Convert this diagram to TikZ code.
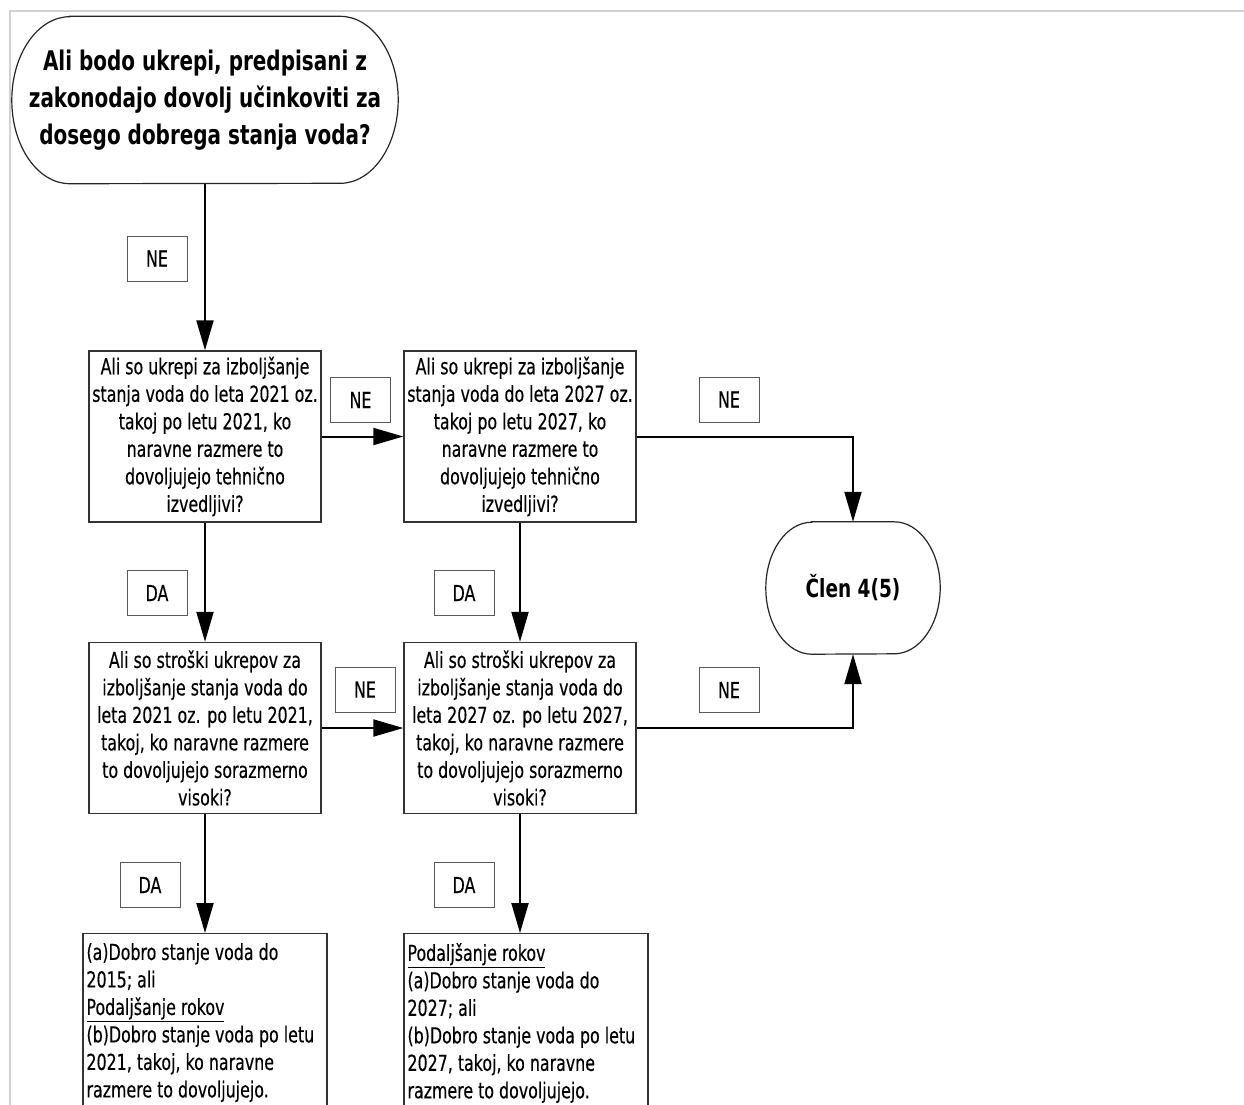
\documentclass[tikz,border=0pt]{standalone}
\usepackage{fontspec}
\setmainfont{DejaVu Sans}[FakeStretch=0.72, UprightFeatures={FakeBold=0.3}]
\newfontfamily\headf{DejaVu Sans}[FakeStretch=0.74]
\usetikzlibrary{arrows.meta,calc}
\begin{document}
\begin{tikzpicture}[x=1pt,y=-1pt,
  bodytxt/.style={font=\fontsize{22}{27.5}\selectfont},
  qbox/.style={draw=black!80, line width=1.4pt, minimum width=232pt, minimum height=171pt, align=center, inner sep=0pt, bodytxt},
  lbl/.style={draw=black!65, line width=1pt, minimum width=60pt, minimum height=45pt, inner sep=0pt, bodytxt},
  conn/.style={line width=2pt, -{Triangle[length=30pt,width=17pt]}},
  termline/.style={draw=black!85, line width=1.2pt},
  endframe/.style={draw=black!80, line width=1.4pt, minimum width=244pt, minimum height=200pt, anchor=north, inner sep=0pt},
  endtxt/.style={align=left, inner sep=0pt, bodytxt, anchor=north west},
  pageline/.style={draw=black!18, line width=1.3pt}
]
\useasboundingbox (0,0) rectangle (1244,1104);
\fill[white] (0,0) rectangle (1244,1104);
\draw[pageline] (10,1106) -- (10,11) -- (1246,11);

% start terminator
\node[minimum width=386pt, minimum height=167pt, inner sep=0pt, align=center,
  font=\headf\bfseries\fontsize{27}{37}\selectfont] (start) at (205,100)
  {Ali bodo ukrepi, predpisani z\\zakonodajo dovolj učinkoviti za\\dosego dobrega stanja voda?};
\draw[termline] ($(start.north west)+(58,0)$) -- ($(start.north east)+(-58,0)$)
  arc[start angle=90, end angle=-90, x radius=58pt, y radius=83.5pt]
  -- ($(start.south west)+(58,0)$)
  arc[start angle=270, end angle=90, x radius=58pt, y radius=83.5pt] -- cycle;

% end terminator
\node[minimum width=174pt, minimum height=132pt, inner sep=0pt,
  font=\headf\bfseries\fontsize{25}{30}\selectfont] (clen) at (853,588) {Člen 4(5)};
\draw[termline] ($(clen.north west)+(46,0)$) -- ($(clen.north east)+(-46,0)$)
  arc[start angle=90, end angle=-90, x radius=46pt, y radius=66pt]
  -- ($(clen.south west)+(46,0)$)
  arc[start angle=270, end angle=90, x radius=46pt, y radius=66pt] -- cycle;

% question boxes
\node[qbox] (q1) at (205,436.5) {Ali so ukrepi za izboljšanje\\stanja voda do leta 2021 oz.\\takoj po letu 2021, ko\\naravne razmere to\\dovoljujejo tehnično\\izvedljivi?};
\node[qbox] (q2) at (520,436.5) {Ali so ukrepi za izboljšanje\\stanja voda do leta 2027 oz.\\takoj po letu 2027, ko\\naravne razmere to\\dovoljujejo tehnično\\izvedljivi?};
\node[qbox] (q3) at (205,728) {Ali so stroški ukrepov za\\izboljšanje stanja voda do\\leta 2021 oz. po letu 2021,\\takoj, ko naravne razmere\\to dovoljujejo sorazmerno\\visoki?};
\node[qbox] (q4) at (520,728) {Ali so stroški ukrepov za\\izboljšanje stanja voda do\\leta 2027 oz. po letu 2027,\\takoj, ko naravne razmere\\to dovoljujejo sorazmerno\\visoki?};

% result boxes (cut by the page bottom)
\node[endframe] (e5box) at (205,933) {};
\node[endtxt] (e5) at ($(e5box.north west)+(4,10)$) {(a)Dobro stanje voda do\\2015; ali\\\underline{Podaljšanje rokov}\\(b)Dobro stanje voda po letu\\2021, takoj, ko naravne\\razmere to dovoljujejo.};
\node[endframe] (e6box) at (526,933) {};
\node[endtxt] (e6) at ($(e6box.north west)+(4,10)$) {\underline{Podaljšanje rokov}\\(a)Dobro stanje voda do\\2027; ali\\(b)Dobro stanje voda po letu\\2027, takoj, ko naravne\\razmere to dovoljujejo.};

% labels
\node[lbl] (l1) at (157,258.5) {NE};
\node[lbl] (l2) at (360.5,400) {NE};
\node[lbl] (l3) at (729,399.5) {NE};
\node[lbl] (l4) at (157,593) {DA};
\node[lbl] (l5) at (464,593) {DA};
\node[lbl] (l6) at (365,689.5) {NE};
\node[lbl] (l7) at (729,690) {NE};
\node[lbl] (l8) at (150,885) {DA};
\node[lbl] (l9) at (464,885) {DA};

% connectors
\draw[conn] (start.south) -- (q1.north);
\draw[conn] (q1.east) -- (q2.west);
\draw[conn] (q2.east) -| (clen.north);
\draw[conn] (q1.south) -- (q3.north);
\draw[conn] (q2.south) -- (q4.north);
\draw[conn] (q3.east) -- (q4.west);
\draw[conn] (q4.east) -| (clen.south);
\draw[conn] (q3.south) -- (e5box.north);
\draw[conn] (q4.south) -- (q4.south |- e6box.north);
\end{tikzpicture}
\end{document}
